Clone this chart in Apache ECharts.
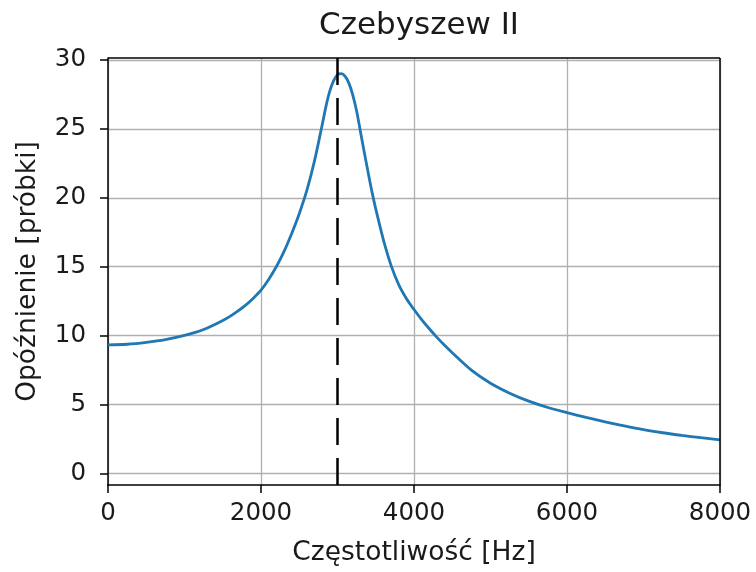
<!DOCTYPE html>
<html>
<head>
<meta charset="utf-8">
<script src="https://cdn.jsdelivr.net/npm/echarts@6/dist/echarts.min.js"></script>
<style>
  html, body { margin: 0; padding: 0; background: #ffffff; }
  #chart { width: 756px; height: 572px; }
</style>
</head>
<body>
<div id="chart"></div>
<script>
// Group delay of a Chebyshev type II filter (samples vs. frequency in Hz)
const frequencies = [
  0, 250, 500, 750, 1000, 1250, 1500, 1600, 1700, 1800, 1900, 2000, 2100, 2200,
  2300, 2400, 2500, 2600, 2700, 2800, 2850, 2900, 2950, 3000, 3050, 3100, 3150,
  3200, 3250, 3300, 3350, 3400, 3450, 3500, 3600, 3700, 3800, 3900, 4000, 4100,
  4200, 4300, 4400, 4500, 4750, 5000, 5250, 5500, 5750, 6000, 6250, 6500, 6750,
  7000, 7250, 7500, 7750, 8000
];
const delaySamples = [
  9.33, 9.38, 9.52, 9.72, 10.02, 10.45, 11.1, 11.42, 11.8, 12.22, 12.72, 13.3, 14.08, 15.0,
  16.1, 17.4, 18.85, 20.55, 22.7, 25.3, 26.65, 27.75, 28.5, 28.92, 29.0, 28.8, 28.3,
  27.45, 26.3, 24.8, 23.3, 21.85, 20.45, 19.2, 16.95, 15.1, 13.7, 12.7, 11.9, 11.17,
  10.5, 9.88, 9.3, 8.76, 7.5, 6.55, 5.83, 5.25, 4.79, 4.42, 4.07, 3.75, 3.45,
  3.18, 2.96, 2.77, 2.6, 2.44
];
const cutoffFrequency = 3000;
const yTicks = [0, 5, 10, 15, 20, 25, 30];
const xTicks = [0, 2000, 4000, 6000, 8000];
const yLimits = [-0.83, 30.14];

const FONT = 'DejaVu Sans';
const chart = echarts.init(document.getElementById('chart'), null, { renderer: 'canvas' });

chart.setOption({
  animation: false,
  backgroundColor: '#ffffff',
  title: {
    text: 'Czebyszew II',
    left: 414,
    top: 5,
    textAlign: 'center',
    textStyle: { fontFamily: FONT, fontSize: 31, fontWeight: 'normal', color: '#1a1a1a' }
  },
  grid: { left: 108, right: 36, top: 58, bottom: 85, containLabel: false },
  xAxis: {
    type: 'value',
    min: xTicks[0],
    max: xTicks[xTicks.length - 1],
    interval: 2000,
    name: 'Częstotliwość [Hz]',
    nameLocation: 'middle',
    nameGap: 55,
    nameTextStyle: { fontFamily: FONT, fontSize: 26.5, color: '#1a1a1a' },
    axisLine: { show: true, onZero: false, lineStyle: { color: '#000000', width: 1.5 } },
    axisTick: { show: true, inside: false, length: 8, lineStyle: { color: '#000000', width: 1.5 } },
    axisLabel: {
      fontFamily: FONT, fontSize: 24.5, color: '#1a1a1a', margin: 16,
      showMinLabel: true, showMaxLabel: true,
      formatter: v => String(v)
    },
    splitLine: { show: true, lineStyle: { color: '#b0b0b0', width: 1.3 } }
  },
  yAxis: {
    type: 'value',
    min: yLimits[0],
    max: yLimits[1],
    name: 'Opóźnienie [próbki]',
    nameLocation: 'middle',
    nameGap: 66,
    nameTextStyle: { fontFamily: FONT, fontSize: 26.5, color: '#1a1a1a' },
    axisLine: { show: true, onZero: false, lineStyle: { color: '#000000', width: 1.5 } },
    axisTick: { show: true, inside: false, length: 8, customValues: yTicks, lineStyle: { color: '#000000', width: 1.5 } },
    axisLabel: {
      fontFamily: FONT, fontSize: 24.5, color: '#1a1a1a', margin: 22,
      customValues: yTicks,
      formatter: v => String(v)
    },
    splitLine: { show: true, lineStyle: { color: '#b0b0b0', width: 1.3 } }
  },
  series: [
    {
      type: 'line',
      data: frequencies.map((f, i) => [f, delaySamples[i]]),
      showSymbol: false,
      smooth: 0.3,
      lineStyle: { color: '#1f77b4', width: 2.8 },
      z: 3,
      markLine: {
        silent: true,
        symbol: ['none', 'none'],
        label: { show: false },
        lineStyle: { color: '#000000', type: [27, 13], width: 2.5 },
        data: [{ xAxis: cutoffFrequency }]
      }
    },
    {
      // right and top frame edges
      type: 'line',
      data: [],
      markLine: {
        silent: true,
        symbol: ['none', 'none'],
        label: { show: false },
        lineStyle: { color: '#000000', type: 'solid', width: 1.5 },
        data: [{ xAxis: xTicks[xTicks.length - 1] }, { yAxis: yLimits[1] }]
      }
    }
  ]
});
</script>
</body>
</html>
